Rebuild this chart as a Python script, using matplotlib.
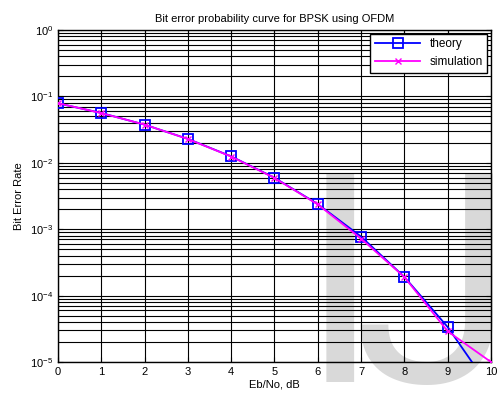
import numpy as np
import matplotlib
matplotlib.use("Agg")
import matplotlib.pyplot as plt

plt.rcParams['font.family'] = ['Liberation Sans', 'DejaVu Sans']

ebno_db = [0, 1, 2, 3, 4, 5, 6, 7, 8, 9, 10]
ber_theory = [7.86e-2, 5.63e-2, 3.75e-2, 2.29e-2, 1.25e-2, 5.95e-3,
              2.39e-3, 7.73e-4, 1.91e-4, 3.36e-5, 3.87e-6]
ber_sim = [7.9e-2, 5.6e-2, 3.76e-2, 2.28e-2, 1.24e-2, 5.9e-3,
           2.36e-3, 7.2e-4, 1.9e-4, 2.9e-5, 1.0e-5]

fig = plt.figure(figsize=(5.01, 4.0), dpi=100)
ax = fig.add_axes([0.1158, 0.095, 0.8642, 0.83])

ax.semilogy(ebno_db, ber_theory, color='#0000ff', lw=1.3, marker='s',
            ms=7, mfc='none', mec='#0000ff', mew=1.3, label='theory', zorder=4)
ax.semilogy(ebno_db, ber_sim, color='#ff00ff', lw=1.3, marker='x',
            ms=4, mec='#ff00ff', label='simulation', zorder=5)

ax.set_xlim(0, 10)
ax.set_ylim(1e-5, 1)
ax.set_xticks(range(0, 11))
ax.grid(True, which='major', color='black', lw=0.8)
ax.grid(True, which='minor', axis='y', color='black', lw=0.8)
ax.tick_params(which='both', direction='in', labelsize=8, top=True, right=True)
for s in ax.spines.values():
    s.set_linewidth(1.0)

# watermark behind grid and curves
wm = dict(transform=fig.transFigure, fontsize=212, color='#d9d9d9',
          va='baseline', zorder=0.5, clip_on=False, family='Roboto')
ax.text(0.598, 0.045, 'I', ha='left', **wm)
ax.text(1.027, 0.045, 'J', ha='right', **wm)

ax.set_title('Bit error probability curve for BPSK using OFDM', fontsize=8)
ax.set_xlabel('Eb/No, dB', fontsize=8, labelpad=2)
ax.set_ylabel('Bit Error Rate', fontsize=8)

leg = ax.legend(loc='upper right', fontsize=8.5, fancybox=False, framealpha=1,
                edgecolor='black', handlelength=3.8, borderaxespad=0.3,
                labelspacing=0.5)
leg.get_frame().set_linewidth(1.0)
leg.set_zorder(6)

fig.savefig('out.png', dpi=100)
